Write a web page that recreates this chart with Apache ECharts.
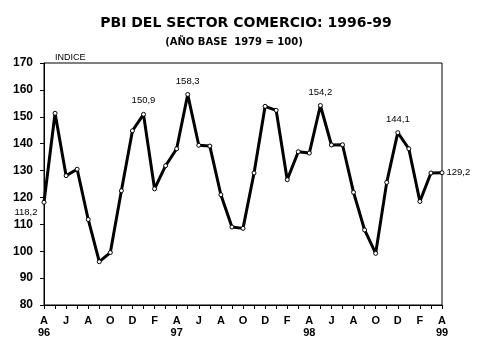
<!DOCTYPE html>
<html><head><meta charset="utf-8">
<script src="https://cdn.jsdelivr.net/npm/echarts@6/dist/echarts.min.js"></script>
<style>html,body{margin:0;padding:0;background:#fff}#c{width:479px;height:359px}</style>
</head><body><div id="c"></div>
<script>
const months = ['A','M','J','J','A','S','O','N','D','E','F','M',
                'A','M','J','J','A','S','O','N','D','E','F','M',
                'A','M','J','J','A','S','O','N','D','E','F','M','A'];
const years = {0:'96',12:'97',24:'98',36:'99'};
const values = [118.2,151.3,128.1,130.5,111.8,96.1,99.5,122.5,144.8,150.9,123.2,131.8,
                138.1,158.3,139.4,139.1,121.0,109.0,108.5,129.1,153.9,152.4,126.6,137.0,
                136.5,154.2,139.5,139.6,121.9,107.9,99.2,125.6,144.1,138.1,118.5,129.1,129.2];
const yTicks = [80,90,100,110,120,130,140,150,160,170];
const labelled = {0:'leftBelow',9:'top',13:'top',25:'top',32:'top',36:'right'};

const fmt = v => v.toFixed(1).replace('.', ',');
const data = values.map((v,i)=>{
  const pos = labelled[i];
  if(!pos) return v;
  let label = {show:true, formatter:fmt(v), color:'#000', fontFamily:'Liberation Sans', fontSize:9.5};
  if(pos==='leftBelow'){ label.position='left'; label.offset=[1,10]; }
  else if(pos==='right'){ label.position='right'; label.distance=2; }
  else { label.position='top'; label.distance=6; }
  return {value:v, label};
});

const chart = echarts.init(document.getElementById('c'), null, {renderer:'canvas'});
chart.setOption({
  animation:false,
  backgroundColor:'#fff',
  title:[
    {text:'PBI DEL SECTOR COMERCIO: 1996-99', left:241, top:11, textAlign:'center',
     textStyle:{fontFamily:'DejaVu Sans', fontWeight:'bold', fontSize:14, color:'#000'}},
    {text:'(AÑO BASE  1979 = 100)', left:229, top:32, textAlign:'center',
     textStyle:{fontFamily:'DejaVu Sans', fontWeight:'bold', fontSize:10, color:'#000'}},
    {text:'INDICE', left:50, top:48,
     textStyle:{fontFamily:'Liberation Sans', fontWeight:'normal', fontSize:9, color:'#000'}}
  ],
  grid:{left:44, right:37, top:63, bottom:54, show:true, borderColor:'#000', borderWidth:1, backgroundColor:'transparent'},
  xAxis:{
    type:'category', data:months, boundaryGap:false,
    axisLine:{lineStyle:{color:'#000', width:1}},
    axisTick:{show:true, interval:0, length:4, lineStyle:{color:'#000'}},
    axisLabel:{interval:1, color:'#000', fontFamily:'Liberation Sans', fontWeight:'bold', fontSize:11,
      margin:10, lineHeight:12,
      formatter:(v,i)=> years[i] ? v+'\n'+years[i] : v},
    splitLine:{show:false}
  },
  yAxis:{
    type:'value', min:yTicks[0], max:yTicks[yTicks.length-1], interval:10,
    axisLine:{show:true, lineStyle:{color:'#000', width:1}},
    axisTick:{show:true, length:4, lineStyle:{color:'#000'}},
    axisLabel:{color:'#000', fontFamily:'Liberation Sans', fontWeight:'bold', fontSize:12, margin:11},
    splitLine:{show:false}
  },
  series:[{
    type:'line', data:data,
    symbol:'circle', symbolSize:4, showAllSymbol:true,
    lineStyle:{color:'#000', width:3},
    itemStyle:{color:'#fff', borderColor:'#000', borderWidth:1},
    emphasis:{disabled:true}
  }]
});
</script></body></html>
